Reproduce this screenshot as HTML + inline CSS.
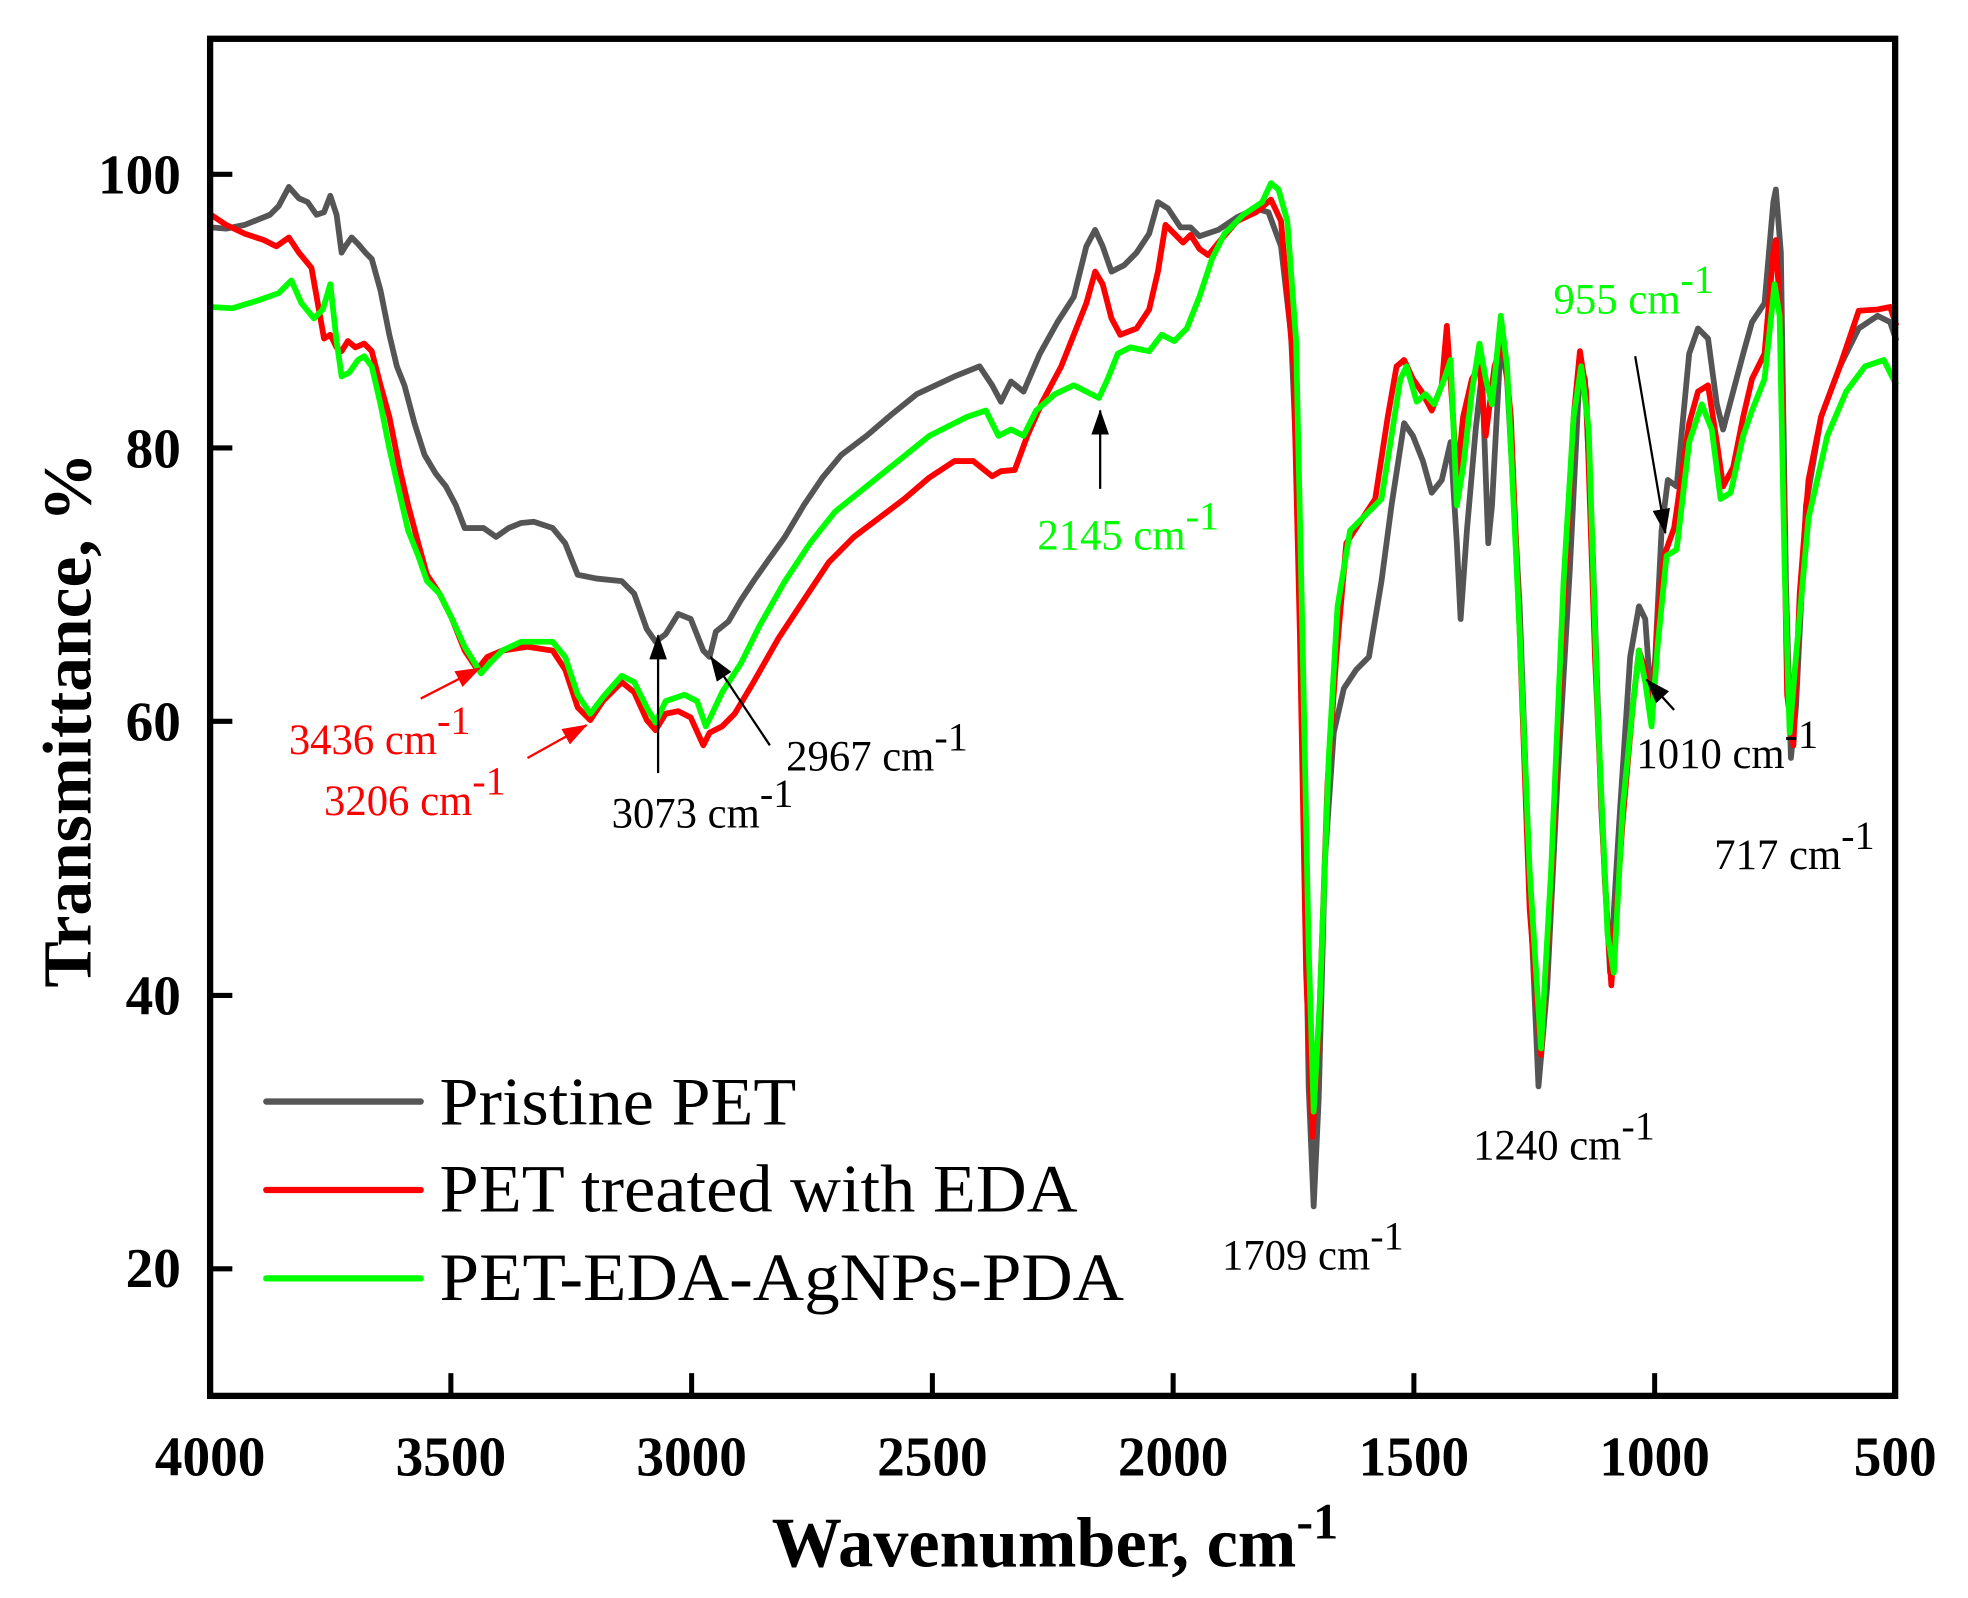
<!DOCTYPE html>
<html><head><meta charset="utf-8"><style>
html,body{margin:0;padding:0;background:#fff;}
svg{display:block;}
text{font-family:"Liberation Serif",serif;}
</style></head><body>
<svg width="1968" height="1598" viewBox="0 0 1567 1265" preserveAspectRatio="none" xmlns="http://www.w3.org/2000/svg">
<defs>
<marker id="ab" markerWidth="20" markerHeight="14" refX="19" refY="7" orient="auto" markerUnits="userSpaceOnUse" viewBox="0 0 20 14"><path d="M0,0 L20,7 L0,14 Z" fill="#000"/></marker>
<marker id="ar" markerWidth="20" markerHeight="14" refX="19" refY="7" orient="auto" markerUnits="userSpaceOnUse" viewBox="0 0 20 14"><path d="M0,0 L20,7 L0,14 Z" fill="#f00"/></marker>
</defs>
<rect width="1567" height="1265" fill="#fff"/>
<g fill="none" stroke-width="4.6" stroke-linejoin="round">
<polyline stroke="#555" points="168,180 180,181 195,178 205,174 215,170 222,163 230,148 238,157 245,160 252,170 258,168 263,155 268,170 272,200 275,195 280,188 285,193 291,200 296,205 303,230 310,265 316,290 322,305 330,335 338,360 347,375 355,385 363,400 370,418 385,418 395,425 405,418 415,414 425,413 440,418 450,430 460,455 475,458 495,460 505,470 515,498 522,508 530,502 540,486 550,490 560,515 565,520 570,500 580,492 590,475 600,460 612,443 625,425 640,400 655,378 670,360 690,345 710,328 730,312 760,298 780,290 790,305 797,318 805,302 815,310 828,280 842,255 855,235 865,195 872,182 878,195 885,215 895,210 905,200 915,185 922,160 930,165 940,180 948,180 955,187 970,182 985,172 1000,165 1010,168 1020,195 1028,265 1033,380 1038,600 1042,860 1046,955 1050,870 1055,680 1062,580 1070,545 1080,530 1090,520 1100,460 1108,400 1118,335 1125,345 1133,365 1140,390 1148,380 1155,350 1160,430 1163,490 1168,420 1175,340 1180,295 1185,430 1188,400 1195,270 1200,300 1210,480 1218,700 1225,860 1232,780 1240,620 1250,450 1258,290 1262,300 1268,430 1275,640 1282,770 1290,640 1298,520 1305,480 1310,490 1315,560 1318,520 1323,420 1328,380 1335,385 1345,280 1352,260 1360,268 1367,320 1372,340 1380,310 1388,280 1395,255 1405,240 1412,160 1414,150 1418,200 1422,460 1426,600 1430,560 1438,400 1450,330 1465,290 1480,260 1495,250 1505,255 1510,270"/>
<polyline stroke="#f00" points="168,170 180,178 195,185 210,190 220,195 230,188 238,200 248,212 258,268 263,265 268,275 272,278 277,270 283,275 290,272 296,278 303,305 310,330 318,370 325,400 333,430 340,455 350,470 360,490 370,515 380,530 388,520 400,515 420,512 440,515 450,530 460,560 470,570 480,555 495,540 505,548 515,570 522,578 530,565 540,563 550,568 560,590 565,580 575,575 585,565 600,540 620,505 640,475 660,445 680,425 700,410 720,395 740,378 760,365 775,365 790,377 797,373 808,372 818,345 830,318 845,290 855,265 865,240 872,215 878,225 885,252 892,265 905,260 915,245 922,215 928,178 935,185 942,192 948,186 955,197 962,202 972,190 985,175 1000,168 1012,158 1020,175 1030,290 1035,500 1040,770 1045,900 1050,820 1057,620 1064,520 1072,430 1085,410 1095,395 1105,330 1112,290 1118,285 1125,300 1132,310 1140,325 1148,305 1152,258 1157,330 1160,380 1165,330 1172,300 1178,290 1183,345 1190,290 1197,268 1203,330 1210,500 1218,720 1227,835 1235,700 1245,480 1253,330 1258,278 1263,310 1270,520 1278,700 1283,780 1292,650 1300,560 1305,515 1310,530 1316,560 1320,490 1325,440 1333,418 1345,335 1352,310 1360,305 1367,350 1372,385 1380,370 1388,330 1395,300 1405,280 1412,200 1414,190 1418,260 1423,550 1428,590 1433,470 1440,380 1450,330 1465,290 1480,246 1495,245 1505,243 1510,258"/>
<polyline stroke="#0f0" points="168,243 185,244 205,238 222,232 232,222 240,240 250,252 257,245 263,225 268,270 272,298 278,295 285,285 290,282 296,290 303,320 310,355 318,390 325,420 333,440 340,460 350,470 360,490 370,512 383,533 390,525 400,515 415,508 440,508 450,520 460,550 470,565 480,552 495,535 505,540 515,560 522,572 530,555 545,550 555,555 562,575 567,565 575,548 590,525 605,495 625,460 645,430 665,405 690,385 715,365 740,345 770,330 785,325 795,345 805,340 815,345 825,325 840,312 855,305 865,310 875,315 882,300 890,280 900,275 915,278 925,265 935,270 945,260 955,235 965,205 975,185 990,170 1005,160 1012,145 1018,150 1025,175 1032,270 1037,500 1042,750 1046,880 1051,790 1058,600 1065,480 1075,420 1090,405 1100,395 1108,345 1115,300 1120,290 1128,318 1135,312 1142,320 1150,300 1155,285 1160,400 1165,370 1172,310 1178,272 1183,300 1188,320 1195,250 1200,290 1210,500 1218,690 1227,830 1235,690 1245,460 1253,330 1259,290 1265,340 1272,560 1280,740 1285,770 1292,640 1300,560 1305,515 1310,540 1315,575 1320,510 1327,440 1335,435 1345,350 1355,320 1363,340 1370,395 1378,390 1388,345 1395,325 1405,300 1413,225 1417,250 1421,450 1425,580 1430,520 1440,410 1455,345 1470,310 1485,290 1500,285 1510,305"/>
</g>
<rect x="167.3" y="30.7" width="1341.7" height="1074.3" fill="none" stroke="#000" stroke-width="5"/>
<g stroke="#000" stroke-width="4">
<line x1="359" y1="1105" x2="359" y2="1087"/><line x1="550.7" y1="1105" x2="550.7" y2="1087"/><line x1="742.4" y1="1105" x2="742.4" y2="1087"/><line x1="934.1" y1="1105" x2="934.1" y2="1087"/><line x1="1125.8" y1="1105" x2="1125.8" y2="1087"/><line x1="1317.5" y1="1105" x2="1317.5" y2="1087"/>
<line x1="167" y1="138" x2="185" y2="138"/><line x1="167" y1="354.6" x2="185" y2="354.6"/><line x1="167" y1="571" x2="185" y2="571"/><line x1="167" y1="788" x2="185" y2="788"/><line x1="167" y1="1004.4" x2="185" y2="1004.4"/>
</g>
<g font-weight="bold" font-size="44" text-anchor="middle">
<text x="167.3" y="1168">4000</text><text x="359" y="1168">3500</text><text x="550.7" y="1168">3000</text><text x="742.4" y="1168">2500</text><text x="934.1" y="1168">2000</text><text x="1125.8" y="1168">1500</text><text x="1317.5" y="1168">1000</text><text x="1509" y="1168">500</text>
</g>
<g font-weight="bold" font-size="44" text-anchor="end">
<text x="144" y="153">100</text><text x="144" y="370">80</text><text x="144" y="586">60</text><text x="144" y="803">40</text><text x="144" y="1019">20</text>
</g>
<text x="840" y="1240" font-weight="bold" font-size="56" text-anchor="middle">Wavenumber, cm<tspan dy="-22" font-size="40">-1</tspan></text>
<text transform="translate(72,570) rotate(-90)" font-weight="bold" font-size="55" text-anchor="middle">Transmittance, %</text>
<g stroke-width="5" stroke-linecap="round">
<line x1="212" y1="872" x2="335" y2="872" stroke="#555"/>
<line x1="212" y1="942" x2="335" y2="942" stroke="#f00"/>
<line x1="212" y1="1012" x2="335" y2="1012" stroke="#0f0"/>
</g>
<g font-size="54">
<text x="350" y="890" textLength="284" lengthAdjust="spacingAndGlyphs">Pristine PET</text>
<text x="350" y="959" textLength="508" lengthAdjust="spacingAndGlyphs">PET treated with EDA</text>
<text x="350" y="1029" textLength="545" lengthAdjust="spacingAndGlyphs">PET-EDA-AgNPs-PDA</text>
</g>
<g font-size="34">
<text x="230" y="597" fill="#f00">3436 cm<tspan dy="-16" font-size="32">-1</tspan></text>
<text x="258" y="645" fill="#f00">3206 cm<tspan dy="-16" font-size="32">-1</tspan></text>
<text x="487" y="655">3073 cm<tspan dy="-16" font-size="32">-1</tspan></text>
<text x="626" y="610">2967 cm<tspan dy="-16" font-size="32">-1</tspan></text>
<text x="826" y="435" fill="#0f0">2145 cm<tspan dy="-16" font-size="32">-1</tspan></text>
<text x="1237" y="248" fill="#0f0">955 cm<tspan dy="-16" font-size="32">-1</tspan></text>
<text x="1303" y="608">1010 cm<tspan dy="-16" font-size="32">-1</tspan></text>
<text x="1365" y="688">717 cm<tspan dy="-16" font-size="32">-1</tspan></text>
<text x="1173" y="918">1240 cm<tspan dy="-16" font-size="32">-1</tspan></text>
<text x="973" y="1005">1709 cm<tspan dy="-16" font-size="32">-1</tspan></text>
</g>
<g stroke-width="1.8" fill="none">
<line x1="335" y1="553" x2="382" y2="529" stroke="#f00" marker-end="url(#ar)"/>
<line x1="420" y1="600" x2="467" y2="574" stroke="#f00" marker-end="url(#ar)"/>
<line x1="524" y1="612" x2="524" y2="503" stroke="#000" marker-end="url(#ab)"/>
<line x1="613" y1="590" x2="566" y2="520" stroke="#000" marker-end="url(#ab)"/>
<line x1="876" y1="387" x2="876" y2="325" stroke="#000" marker-end="url(#ab)"/>
<line x1="1302" y1="282" x2="1326" y2="422" stroke="#000" marker-end="url(#ab)"/>
<line x1="1333" y1="562" x2="1311" y2="538" stroke="#000" marker-end="url(#ab)"/>
</g>
</svg>
</body></html>
